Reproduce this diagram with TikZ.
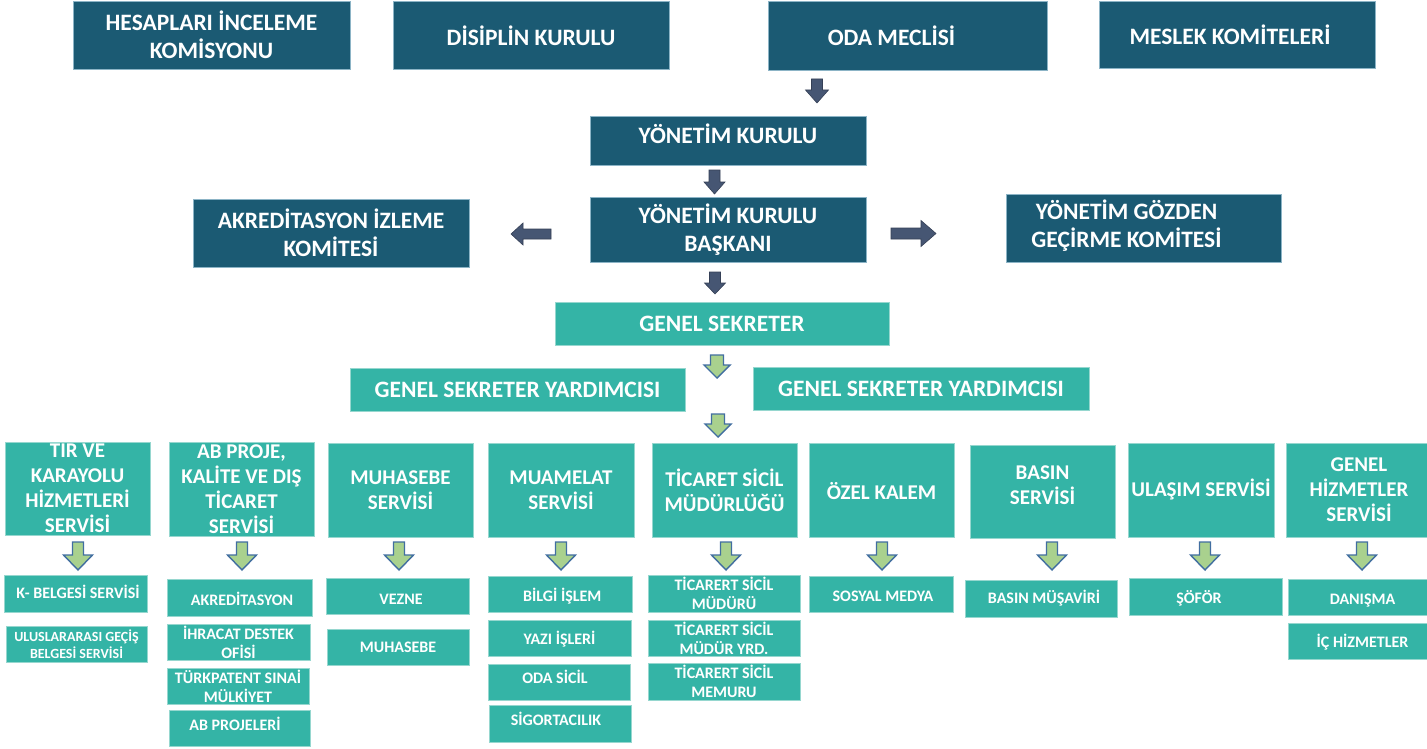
\documentclass[tikz,border=0pt]{standalone}
\usepackage{fontspec}
\setmainfont{Carlito}
\definecolor{dkbox}{RGB}{27,90,115}
\definecolor{dkedge}{RGB}{140,180,198}
\definecolor{tlbox}{RGB}{52,180,166}
\definecolor{tledge}{RGB}{150,215,207}
\definecolor{arrdk}{RGB}{70,86,115}
\definecolor{arrgr}{RGB}{169,209,142}
\definecolor{arrbl}{RGB}{65,110,160}
\tikzset{
  base/.style={inner sep=0pt, text=white, align=center, line width=0.8pt},
  dbox/.style={base, fill=dkbox, draw=dkedge, font=\fontsize{23.5}{28.5}\selectfont\bfseries},
  gbox/.style={base, fill=tlbox, draw=tledge, font=\fontsize{23.5}{28.5}\selectfont\bfseries},
  mbox/.style={base, fill=tlbox, draw=tledge, minimum width=145, minimum height=94, font=\fontsize{21}{25}\selectfont\bfseries},
  sbox/.style={base, fill=tlbox, draw=tledge, minimum height=36, font=\fontsize{16}{19}\selectfont\bfseries},
  one23/.style={text height=15.1pt, text depth=0pt},
  one23low/.style={text height=20.1pt, text depth=0pt},
  one21/.style={text height=13.5pt, text depth=0pt},
  one16/.style={text height=10.3pt, text depth=0pt},
  darr/.style={fill=arrdk, draw=arrdk!75!black, line width=0.6pt},
  garr/.style={fill=arrgr, draw=arrbl, line width=1.4pt},
  pics/blockdown/.style n args={4}{code={
    \path[pic actions] (-#1,0) -- (#1,0) -- (#1,#3) -- (#2,#3) -- (0,#4) -- (-#2,#3) -- (-#1,#3) -- cycle;}},
}
\begin{document}
\begin{tikzpicture}[x=1pt,y=-1pt]
\useasboundingbox (0,0) rectangle (1427,749);
\fill[white] (0,0) rectangle (1427,749);
\clip (0,0) rectangle (1427,749);

% top level
\node[dbox, minimum width=277, minimum height=68] (hes) at (211.5,35) {HESAPLARI İNCELEME\\KOMİSYONU};
\node[dbox, one23low, minimum width=276, minimum height=68] (dis) at (531,35) {DİSİPLİN KURULU};
\node[dbox, one23low, minimum width=279, minimum height=69] (oda) at (907.5,35.5) {ODA MECLİSİ\hspace*{32pt}};
\node[dbox, one23low, minimum width=276, minimum height=67] (mes) at (1237,34.5) {MESLEK KOMİTELERİ\hspace*{14pt}};

\pic[darr] (a1) at (817,79) {blockdown={5.5}{11.5}{11}{24}};

\node[dbox, text height=15.1pt, text depth=9pt, minimum width=276, minimum height=49] (yk) at (728,140.5) {YÖNETİM KURULU};

\pic[darr] (a2) at (714.5,170) {blockdown={5.5}{10.5}{12}{24}};

\node[dbox, minimum width=276, minimum height=65] (ykb) at (728,229.5) {YÖNETİM KURULU\\BAŞKANI};
\node[dbox, minimum width=276, minimum height=68] (akr) at (331,233) {AKREDİTASYON İZLEME\\KOMİTESİ};
\node[dbox, minimum width=275, minimum height=68] (ygg) at (1143.5,228) {\begin{tabular}{@{}c@{}}YÖNETİM GÖZDEN\\GEÇİRME KOMİTESİ\end{tabular}\hspace*{34pt}};

\pic[darr, rotate=-90] (a3) at (551,234) {blockdown={5}{11}{28}{40}};
\pic[darr, rotate=90] (a4) at (891,233.5) {blockdown={5.5}{13}{30}{45}};
\pic[darr] (a5) at (715,272) {blockdown={5.5}{10.5}{11}{22}};

\node[gbox, one23, minimum width=334, minimum height=43] (gs) at (722,323.5) {GENEL SEKRETER};
\pic[garr] (g1) at (717,355) {blockdown={6.5}{13}{10}{23}};
\node[gbox, one23, minimum width=335, minimum height=43] (gsy1) at (517.5,389.5) {GENEL SEKRETER YARDIMCISI};
\node[gbox, one23, minimum width=336, minimum height=43] (gsy2) at (921,388.5) {GENEL SEKRETER YARDIMCISI};
\pic[garr] (g2) at (718,414) {blockdown={6.5}{13}{10}{23}};

% services
\node[mbox, minimum height=93] (tir) at (77.5,488.5) {TIR VE\\KARAYOLU\\HİZMETLERİ\\SERVİSİ};
\node[mbox] (abs) at (241.5,489) {AB PROJE,\\KALİTE VE DIŞ\\TİCARET\\SERVİSİ};
\node[mbox] (muhs) at (400.5,490) {MUHASEBE\\SERVİSİ};
\node[mbox, minimum width=146] (mua) at (561,490) {MUAMELAT\\SERVİSİ};
\node[mbox] (tsm) at (724.5,490) {TİCARET SİCİL\\MÜDÜRLÜĞÜ};
\node[mbox, text height=19.5pt, text depth=0pt] (ozk) at (881.5,490) {ÖZEL KALEM};
\node[mbox, minimum height=93] (bas) at (1042.5,491.5) {BASIN\\SERVİSİ\\[-12.5pt]{}};
\node[mbox, one21, minimum width=146] (ula) at (1201,490) {ULAŞIM SERVİSİ};
\node[mbox, minimum width=146] (ghs) at (1359,490) {GENEL\\HİZMETLER\\SERVİSİ};

\foreach \gx/\gn in {78/b1,242/b2,399/b3,561/b4,726/b5,882/b6,1052/b7,1205/b8,1362/b9}
  \pic[garr] (\gn) at (\gx,542) {blockdown={5.5}{14.5}{13}{28}};

% sub units
\node[sbox, one16, minimum width=143, minimum height=37] (kb) at (75.5,593.5) {\hspace*{5pt}K- BELGESİ SERVİSİ};
\node[sbox, minimum width=141, font=\fontsize{14}{16.6}\selectfont\bfseries] (ulu) at (76.5,644) {ULUSLARARASI GEÇİŞ\\BELGESİ SERVİSİ};

\node[sbox, text height=16.3pt, text depth=0pt, minimum width=145, minimum height=37] (akd) at (239.5,597.5) {\hspace*{5pt}AKREDİTASYON};
\node[sbox, minimum width=143] (ihr) at (238.5,642) {İHRACAT DESTEK\\OFİSİ};
\node[sbox, minimum width=142] (tur) at (238,686) {TÜRKPATENT SINAİ\\MÜLKİYET};
\node[sbox, text height=10.3pt, text depth=6pt, minimum width=141] (abp) at (239.5,728) {AB PROJELERİ\hspace*{9pt}};

\node[sbox, text height=16.3pt, text depth=0pt, minimum width=143] (vez) at (397.5,596) {\hspace*{7pt}VEZNE};
\node[sbox, one16, minimum width=142] (muh) at (398,647) {MUHASEBE};

\node[sbox, text height=15.7pt, text depth=0pt, minimum width=144] (bil) at (560,594) {\hspace*{4.6pt}BİLGİ İŞLEM};
\node[sbox, text height=12.9pt, text depth=0pt, minimum width=143] (yaz) at (559.5,638) {YAZI İŞLERİ};
\node[sbox, text height=10.3pt, text depth=7.4pt, minimum width=142] (ods) at (559,682) {ODA SİCİL\hspace*{8pt}};
\node[sbox, text height=10.3pt, text depth=5.6pt, minimum width=142, minimum height=37] (sig) at (560,723.5) {SİGORTACILIK\hspace*{8pt}};

\node[sbox, minimum width=152, minimum height=37] (tc1) at (724,593.5) {TİCARERT SİCİL\\MÜDÜRÜ};
\node[sbox, minimum width=152] (tc2) at (724,638) {TİCARERT SİCİL\\MÜDÜR YRD.};
\node[sbox, minimum width=152, minimum height=37] (tc3) at (724,681.5) {TİCARERT SİCİL\\MEMURU};

\node[sbox, text height=15.7pt, text depth=0pt, minimum width=144] (sos) at (881,594) {\hspace*{4pt}SOSYAL MEDYA};
\node[sbox, one16, minimum width=152, minimum height=37] (bmu) at (1041,598.5) {\hspace*{6pt}BASIN MÜŞAVİRİ};
\node[sbox, text height=13.3pt, text depth=0pt, minimum width=153, minimum height=37] (sof) at (1205.5,596.5) {ŞÖFÖR\hspace*{13pt}};
\node[sbox, text height=14.9pt, text depth=0pt, minimum width=149] (dan) at (1362.5,597) {DANIŞMA};
\node[sbox, text height=13.7pt, text depth=0pt, minimum width=149] (ich) at (1362.5,641) {İÇ HİZMETLER};
\end{tikzpicture}
\end{document}
